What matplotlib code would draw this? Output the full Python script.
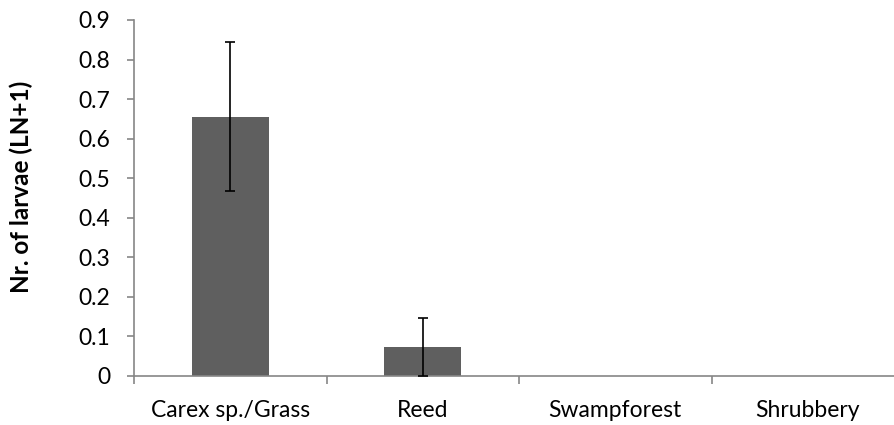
import matplotlib.pyplot as plt
import numpy as np

# habitat categories and larvae counts (LN+1)
habitats = ['Carex sp./Grass', 'Reed', 'Swampforest', 'Shrubbery']
larvae = [0.656, 0.073, 0.0, 0.0]
errors = [0.189, 0.074, 0.0, 0.0]
yticks = [0, 0.1, 0.2, 0.3, 0.4, 0.5, 0.6, 0.7, 0.8, 0.9]

plt.rcParams['font.family'] = ['Lato', 'DejaVu Sans']
axis_gray = '#868686'

fig = plt.figure(figsize=(8.95, 4.25), dpi=100)
# axes runs a little past the right edge like in the original
ax = fig.add_axes([134 / 895, 49 / 425, 770 / 895, 356 / 425])

x = np.arange(len(habitats))
ax.bar(x, larvae, width=0.4, color='#5f5f5f', zorder=2)
# only draw error bars for non-zero bars
for xi, v, e in zip(x, larvae, errors):
    if v > 0:
        ax.errorbar(xi, v, yerr=e, fmt='none', ecolor='black',
                    elinewidth=1.2, capsize=3.5, capthick=1.2, zorder=3)

ax.set_xlim(-0.5, len(habitats) - 0.5)
ax.set_ylim(0, 0.9)
ax.set_yticks(yticks)
ax.set_yticklabels([f'{t:g}' if t != 0 else '0' for t in yticks])
ax.set_xticks(x)
ax.set_xticklabels(habitats)
ax.set_xticks(np.arange(len(habitats)) - 0.5, minor=True)

for side in ['top', 'right']:
    ax.spines[side].set_visible(False)
for side in ['left', 'bottom']:
    ax.spines[side].set_color(axis_gray)
    ax.spines[side].set_linewidth(1.2)

ax.tick_params(axis='y', direction='out', length=5, width=1.2, color=axis_gray,
               labelsize=16.5, pad=12)
ax.tick_params(axis='x', which='major', length=0, labelsize=16.5, pad=17)
ax.tick_params(axis='x', which='minor', direction='out', length=6, width=1.2,
               color=axis_gray)

ax.set_ylabel('Nr. of larvae (LN+1)', fontsize=17.5, fontweight='bold')
ax.yaxis.set_label_coords(-101 / 770, 0.53)

fig.savefig('out.png', dpi=100)
